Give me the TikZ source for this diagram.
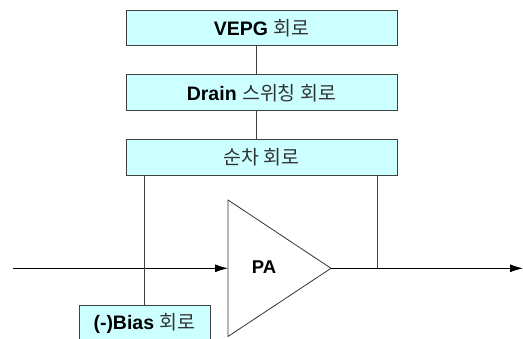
\documentclass[tikz,border=0pt]{standalone}
\usepackage{fontspec}
\setmainfont{Liberation Sans}
\newfontfamily\kr{Noto Sans CJK KR}
\usetikzlibrary{positioning,arrows.meta}

\definecolor{boxfill}{RGB}{204,255,255}
\newcommand{\hg}[1]{{\kr\color{black!80}#1}}

\begin{document}
\begin{tikzpicture}[
  x=1pt, y=1pt,
  >={Latex[length=13pt,width=8pt]},
  node distance=28.5pt,
  blk/.style={draw=black!75, line width=0.9pt, fill=boxfill, minimum width=271pt, minimum height=35.5pt, inner sep=0pt, font=\fontsize{19.5}{21}\selectfont},
  link/.style={draw=black!75, line width=0.9pt},
  sig/.style={->, line width=0.9pt},
]
\useasboundingbox (0,0) rectangle (523,338);

% === control chain ===
\node[blk] (vepg) at (261.5,310.2) {\textbf{VEPG} \hg{회로}};
\node[blk, below=of vepg] (drain) {\textbf{Drain} \hg{스위칭 회로}};
\node[blk, below=of drain] (seq) {\hg{순차 회로}};

\draw[link] ([xshift=-5pt]vepg.south) -- ([xshift=-5pt]drain.north);
\draw[link] ([xshift=-5pt]drain.south) -- ([xshift=-5pt]seq.north);

% === amplifier ===
\coordinate (in) at (228,69.7);
\coordinate (out) at (331,69.7);
\draw[line width=0.8pt, draw=black!80] (228,138) -- (out) -- (228,1.5) -- cycle;
\node[font=\fontsize{18.5}{20}\selectfont\bfseries] (pa) at (264,70.5) {PA};

\coordinate (src) at (13,69.7);
\coordinate (dst) at (523,69.7);
\draw[sig] (src) -- (in);
\draw[sig] (out) -- (dst);

% === bias ===
\node[blk, minimum width=131pt] (bias) at (144.5,15) {\textbf{(-)Bias} \hg{회로}};
\draw[link] (seq.south -| bias.north) -- (bias.north);

\coordinate (tap) at (377.7,69.7);
\draw[link] (seq.south -| tap) -- (tap);

\end{tikzpicture}
\end{document}
